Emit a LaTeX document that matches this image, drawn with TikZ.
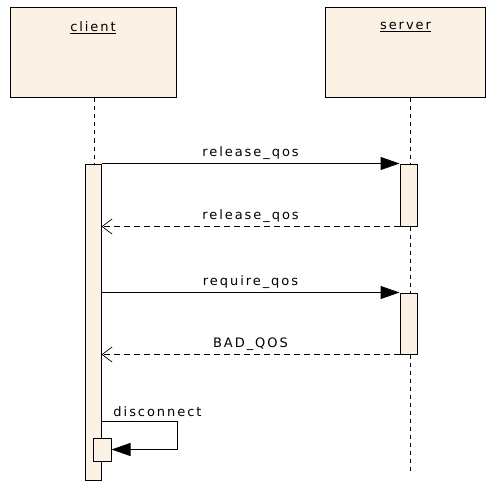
\documentclass[tikz,border=0pt]{standalone}
\usepackage{fontspec}
\newfontfamily\umlfont[LetterSpace=15]{DejaVu Sans}
\usepackage{xcolor}
\usepackage{tikz}
\usetikzlibrary{arrows.meta, positioning, calc}
\definecolor{lifebeige}{RGB}{251, 241, 229}

\begin{document}
\begin{tikzpicture}[x=1pt, y=-1pt, every node/.style={font=\umlfont\fontsize{13}{15}\selectfont},
    objbox/.style={draw, line width=1pt, fill=lifebeige, minimum width=166pt, minimum height=90pt, inner sep=0pt},
    actbar/.style={draw, line width=1pt, fill=lifebeige, inner sep=0pt},
    lifeline/.style={line width=1pt, dash pattern=on 4pt off 4pt},
    callmsg/.style={line width=1pt, -{Triangle[length=19pt, width=13pt]}},
    retmsg/.style={line width=1pt, dash pattern=on 6pt off 4pt, -{Straight Barb[length=10pt, width=15pt, line width=0.7pt]}}]
    \useasboundingbox (0,0) rectangle (486,481);

    % Object headers
    \node[objbox] (client) at (93,53) {};
    \node[objbox, minimum width=160pt] (server) at (405.5,53) {};
    \node[anchor=north] (clientname) at ($(client.north)+(0,11)$) {\underline{client}};
    \node[anchor=north] (servername) at ($(server.north)+(0,11)$) {\underline{server}};

    % Lifelines
    \coordinate (clientend) at (94,164);
    \coordinate (serverend) at (410,474);
    \draw[lifeline] (client.south -| clientend) -- (clientend);
    \draw[lifeline] (server.south -| serverend) -- (serverend);

    % Activation bars
    \node[actbar, minimum width=16pt, minimum height=316pt] (clientact) at (93,322) {};
    \node[actbar, minimum width=17pt, minimum height=62pt] (srvactA) at (408.5,195) {};
    \node[actbar, minimum width=17pt, minimum height=61pt] (srvactB) at (408.5,323.5) {};
    \node[actbar, minimum width=18pt, minimum height=23pt] (selfact) at (102,449.5) {};

    % Messages
    \draw[callmsg] (clientact.north east) -- node[above=0pt] (msgA) {release\_qos} (srvactA.north west);
    \draw[retmsg] (srvactA.south west) -- node[above=0pt] (msgB) {release\_qos} (srvactA.south west -| clientact.east);
    \draw[callmsg] (clientact.east |- srvactB.north) -- node[above=0pt] (msgC) {require\_qos} (srvactB.north west);
    \draw[retmsg] (srvactB.south west) -- node[above=0pt] (msgD) {BAD\_QOS} (srvactB.south west -| clientact.east);

    % Self call
    \coordinate (selfstart) at (clientact.east |- 0,421);
    \draw[callmsg] (selfstart) -- ++(76,0) |- (selfact.east);
    \node[anchor=south] (msgE) at ($(selfstart)+(56,-1)$) {disconnect};

\end{tikzpicture}
\end{document}
